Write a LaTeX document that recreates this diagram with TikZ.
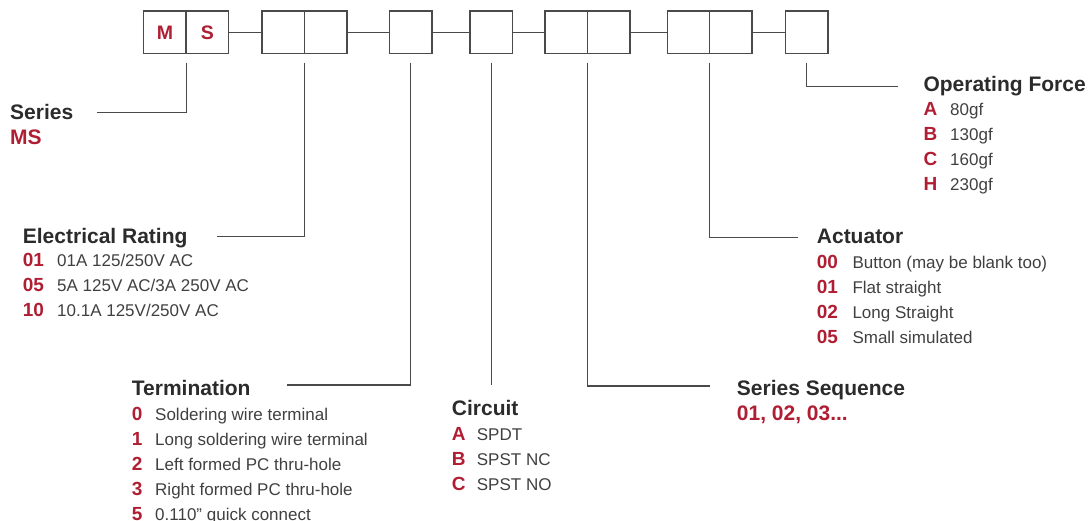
\documentclass[tikz,border=0pt]{standalone}
\usepackage{fontspec}
\setmainfont{Liberation Sans}
\usepackage{tikz}
\definecolor{my_red}{HTML}{B01E33}
\definecolor{my_darkgray}{HTML}{2B2B2B}
\definecolor{my_linegray}{HTML}{4A4A4A}

\begin{document}
\begin{tikzpicture}[
    x=1pt, y=-1pt,
    cell/.style={draw=my_linegray, line width=1.2pt, minimum width=42.5pt, minimum height=42.7pt,
        inner sep=0pt, outer sep=0pt, text=my_red, font=\fontsize{19.5}{22}\selectfont\bfseries},
    link/.style={my_linegray, line width=1.2pt},
    leader/.style={my_linegray, line width=1.2pt},
    head/.style={anchor=base west, inner sep=0pt, text=my_darkgray, font=\fontsize{21}{24}\selectfont\bfseries},
    code/.style={anchor=base west, inner sep=0pt, text=my_red, font=\fontsize{19}{22}\selectfont\bfseries},
    item/.style={anchor=base west, inner sep=0pt, text=my_darkgray!90, font=\fontsize{17}{20}\selectfont}
]

% Picture frame in px: x to the right, y downwards
\useasboundingbox (0,0) rectangle (1091,521);

% Part-number boxes (cell centres on the top row)
\node[cell] (msM) at (165,32.3) {M};
\node[cell] (msS) at (207.3,32.3) {S};
\foreach \nm/\xc in {er1/283.2, er2/325.8, tm/410.8, ci/491.3, sq1/566.3, sq2/608.7, ac1/688.5, ac2/730.8, opf/806.7}
    \node[cell] (\nm) at (\xc,32.3) {};

% Short links between the box groups
\foreach \a/\b in {msS/er1, er2/tm, tm/ci, ci/sq1, sq2/ac1, ac2/opf}
    \draw[link] (\a) -- (\b);

% Free ends of the leaders, next to each heading
\coordinate (ldSeries) at (96.7,112.7);
\coordinate (ldRating) at (217,236.7);
\coordinate (ldTerm)   at (286.7,385);
\coordinate (ldCirc)   at (491.3,385);
\coordinate (ldSeq)    at (710,386);
\coordinate (ldAct)    at (798,237.7);
\coordinate (ldForce)  at (898,86.7);

% Leaders from the boxes down to the headings
\draw[leader] ([yshift=-9pt]msM.south east) |- (ldSeries);
\draw[leader] ([yshift=-9pt]er1.south east) |- (ldRating);
\draw[leader] ([yshift=-9pt]tm.south) |- (ldTerm);
\draw[leader] ([yshift=-9pt]ci.south) -- (ldCirc);
\draw[leader] ([yshift=-9pt]sq1.south east) |- (ldSeq);
\draw[leader] ([yshift=-9pt]ac1.south east) |- (ldAct);
\draw[leader] ([yshift=-9pt]opf.south) |- (ldForce);

% Series
\node[head] (hdSeries) at (10,120) {Series};
\node[head, text=my_red] (srCode) at (10,145) {MS};

% Electrical Rating
\node[head] (hdRating) at (22.7,243.3) {Electrical Rating};
\foreach \cd/\ds [count=\i] in {01/{01A 125/250V AC}, 05/{5A 125V AC/3A 250V AC}, 10/{10.1A 125V/250V AC}} {
    \node[code] (rtC\i) at (22.7,{241.7+25*\i}) {\cd};
    \node[item] (rtD\i) at (57,{241.7+25*\i}) {\ds};
}

% Termination
\node[head] (hdTerm) at (131.7,395) {Termination};
\foreach \cd/\ds [count=\i] in {0/Soldering wire terminal, 1/Long soldering wire terminal,
        2/Left formed PC thru-hole, 3/Right formed PC thru-hole, 5/0.110” quick connect} {
    \node[code] (tmC\i) at (131.7,{395+25*\i}) {\cd};
    \node[item] (tmD\i) at (155,{395+25*\i}) {\ds};
}

% Circuit
\node[head] (hdCirc) at (451.7,415) {Circuit};
\foreach \cd/\ds [count=\i] in {A/SPDT, B/SPST NC, C/SPST NO} {
    \node[code] (ciC\i) at (451.7,{415+25*\i}) {\cd};
    \node[item] (ciD\i) at (476.7,{415+25*\i}) {\ds};
}

% Series Sequence
\node[head] (hdSeq) at (736.7,395) {Series Sequence};
\node[head, text=my_red] (sqCode) at (736.7,420) {01, 02, 03...};

% Actuator
\node[head] (hdAct) at (816.7,243.3) {Actuator};
\foreach \cd/\ds [count=\i] in {00/Button (may be blank too), 01/Flat straight, 02/Long Straight, 05/Small simulated} {
    \node[code] (acC\i) at (816.7,{243.3+25*\i}) {\cd};
    \node[item] (acD\i) at (852.3,{243.3+25*\i}) {\ds};
}

% Operating Force
\node[head] (hdForce) at (923.3,91.7) {Operating Force};
\foreach \cd/\ds [count=\i] in {A/80gf, B/130gf, C/160gf, H/230gf} {
    \node[code] (fcC\i) at (923.3,{91+25*\i}) {\cd};
    \node[item] (fcD\i) at (950,{91+25*\i}) {\ds};
}

\end{tikzpicture}
\end{document}
